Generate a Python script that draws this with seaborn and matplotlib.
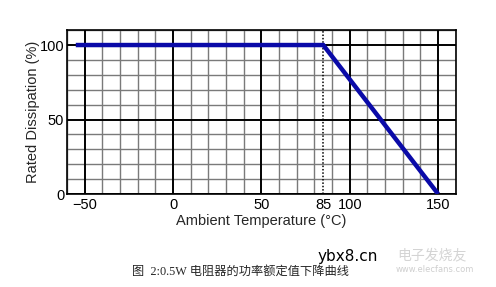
import matplotlib
matplotlib.use("Agg")
import matplotlib.pyplot as plt
import seaborn as sns
import pandas as pd
import numpy as np

temperature = [-55, 85, 150]
dissipation = [100, 100, 0]
xticks = [-50, 0, 50, 85, 100, 150]
yticks = [0, 50, 100]
x_label = "Ambient Temperature (°C)"
y_label = "Rated Dissipation (%)"
caption = "图  2:0.5W 电阻器的功率额定值下降曲线"

sns.set_style("white")
plt.rcParams['font.family'] = ['Liberation Sans', 'DejaVu Sans']

fig = plt.figure(figsize=(4.96, 2.87), dpi=100)
ax = fig.add_axes([0.135, 0.324, 0.784, 0.571])

# grid
for x in range(-60, 161, 10):
    if x in (-50, 0, 50, 100, 150):
        ax.axvline(x, color="black", lw=1.4, zorder=1)
    else:
        ax.axvline(x, color="#7a7a7a", lw=1.0, zorder=0)
for y in range(0, 111, 10):
    if y in (0, 50, 100):
        ax.axhline(y, color="black", lw=1.4, zorder=1)
    else:
        ax.axhline(y, color="#7a7a7a", lw=1.0, zorder=0)
ax.axvline(85, color="black", lw=1.1, ls=(0, (1, 1.2)), zorder=2)

df = pd.DataFrame({"t": temperature, "p": dissipation})
sns.lineplot(data=df, x="t", y="p", ax=ax, color="#0a0aa8", lw=3.2, zorder=3,
             sort=False, solid_capstyle="butt", solid_joinstyle="miter")

ax.set_xlim(-60, 160)
ax.set_ylim(0, 110)
ax.set_xticks(xticks)
ax.set_yticks(yticks)
ax.tick_params(axis="both", length=0, labelsize=10.5, colors="black")
ax.tick_params(axis="x", pad=3)
ax.tick_params(axis="y", pad=2)
ax.set_xlabel(x_label, fontsize=10.5, labelpad=1)
ax.set_ylabel(y_label, fontsize=10.5, labelpad=0)
for s in ax.spines.values():
    s.set_color("black")
    s.set_linewidth(1.2)

fig.text(241 / 496, 1 - 271.5 / 287, caption, ha="center", va="center",
         fontsize=8.8, family=["Liberation Serif", "Noto Sans CJK SC"])
fig.text(348 / 496, 1 - 257 / 287, "ybx8.cn", ha="center", va="center",
         fontsize=11, family=["DejaVu Sans"], color="black")
fig.text(432 / 496, 1 - 255 / 287, "电子发烧友", ha="center", va="center",
         fontsize=10, family=["Noto Sans CJK SC"], color="#d4d4d4", style="italic")
fig.text(435 / 496, 1 - 270 / 287, "www.elecfans.com", ha="center", va="center",
         fontsize=6, family=["DejaVu Sans"], color="#cfcfcf")

fig.savefig("out.png", dpi=100)
